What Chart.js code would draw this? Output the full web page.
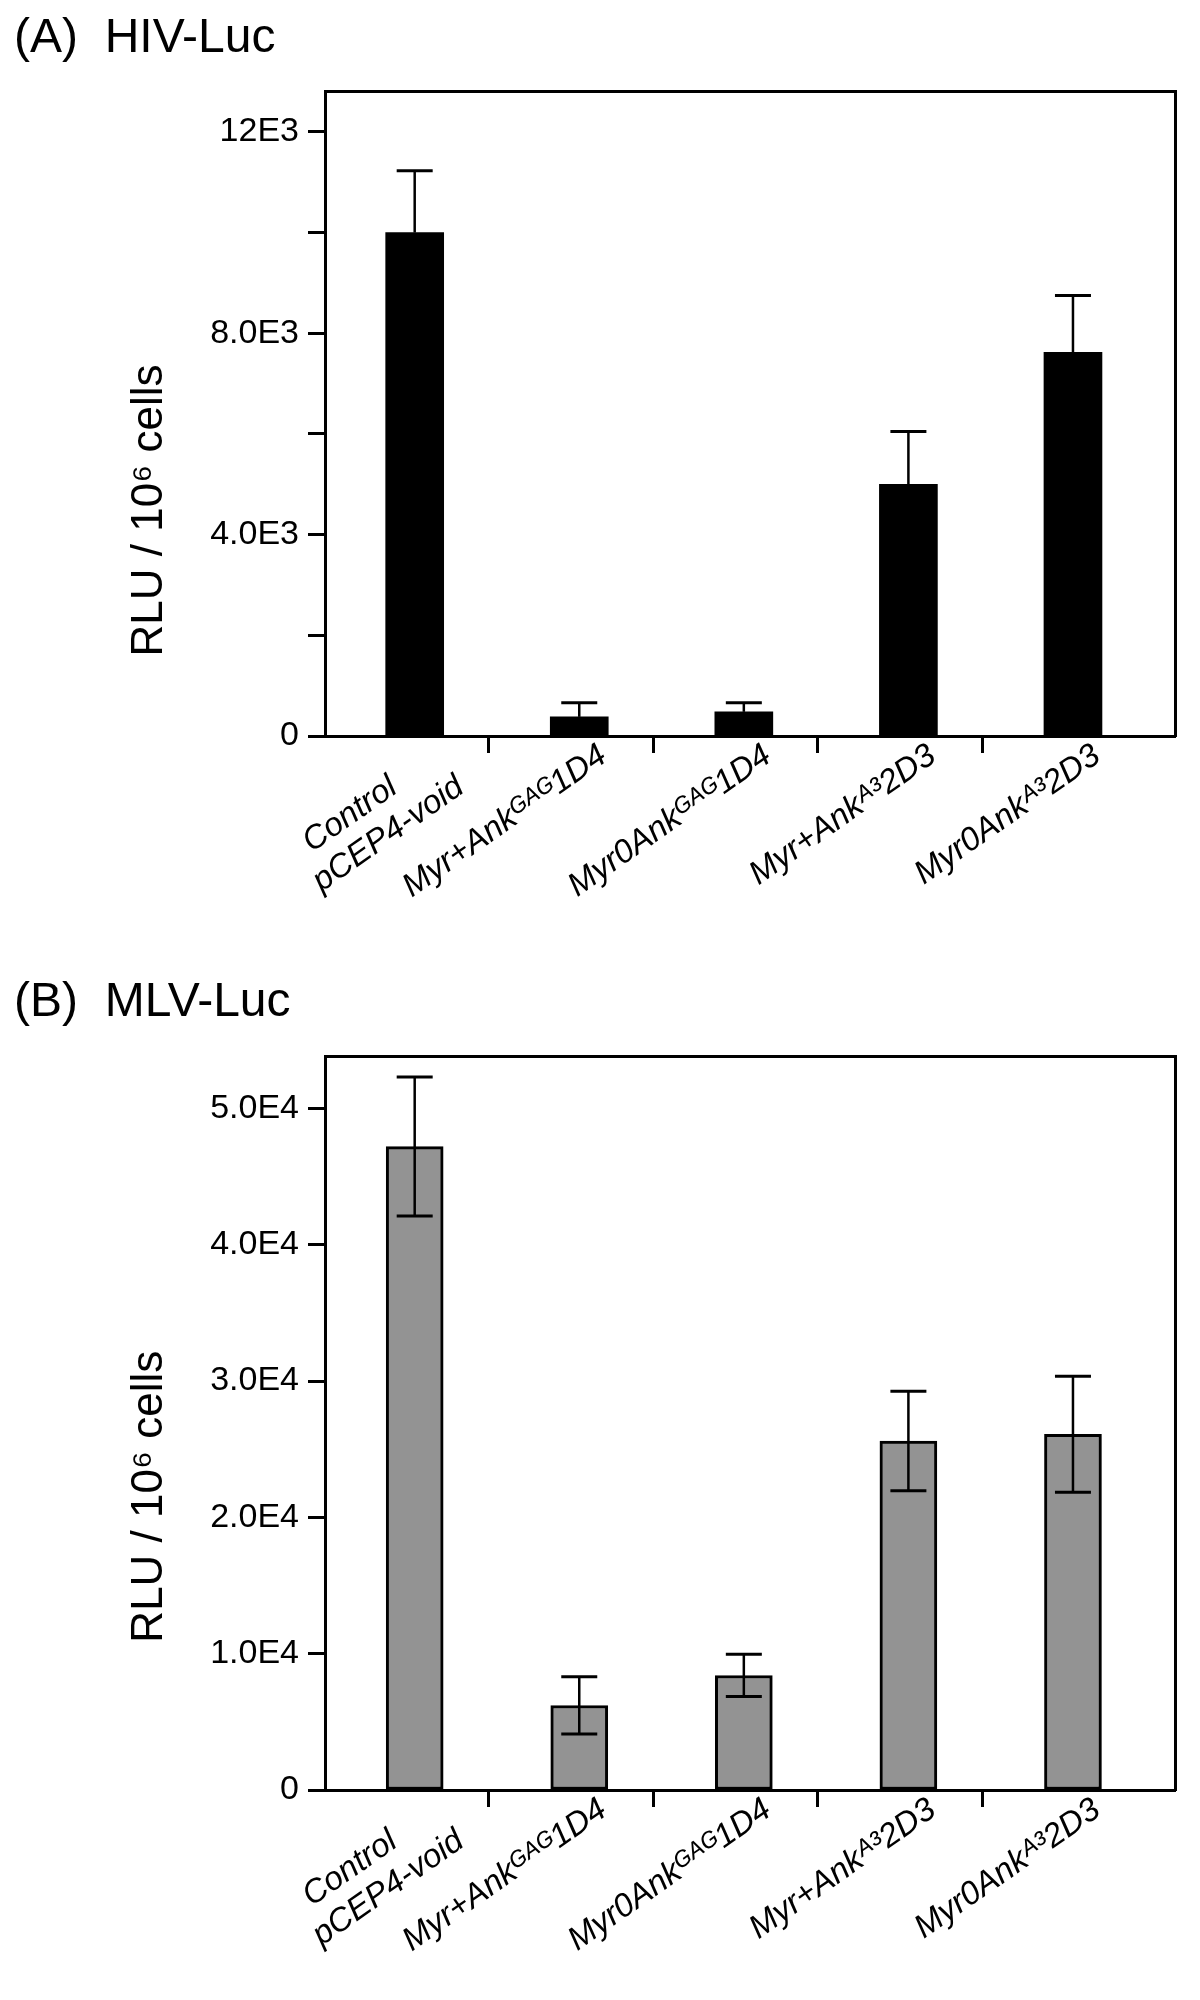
<!DOCTYPE html>
<html>
<head>
<meta charset="utf-8">
<script src="https://cdn.jsdelivr.net/npm/chart.js@4.4.1/dist/chart.umd.min.js"></script>
<style>
  body { margin: 0; background: #fff; }
  .panel { position: relative; width: 1200px; }
  #panelA { height: 960px; }
  #panelB { height: 1040px; }
</style>
</head>
<body>
<div class="panel" id="panelA"><canvas id="chartA"></canvas></div>
<div class="panel" id="panelB"><canvas id="chartB"></canvas></div>
<script>
// categories (same for both panels)
const categories = [['Control      ', 'pCEP4-void'], 'Myr+Ankᴳᴬᴳ1D4', 'Myr0Ankᴳᴬᴳ1D4', 'Myr+Ankᴬ³2D3', 'Myr0Ankᴬ³2D3'];

// (A) HIV-Luc
const hivValues = [10000, 380, 480, 5000, 7620];
const hivErrors = [1230, 280, 180, 1050, 1130];
const hivTicks = [0, 2000, 4000, 6000, 8000, 10000, 12000];
const hivTickLabels = ['0', '', '4.0E3', '', '8.0E3', '', '12E3'];
const hivMax = 12800;

// (B) MLV-Luc
const mlvValues = [47200, 6200, 8400, 25600, 26100];
const mlvErrors = [5100, 2100, 1550, 3650, 4250];
const mlvTicks = [0, 10000, 20000, 30000, 40000, 50000];
const mlvTickLabels = ['0', '1.0E4', '2.0E4', '3.0E4', '4.0E4', '5.0E4'];
const mlvMax = 53800;

const FONT = "'Liberation Sans', Arial, sans-serif";
const PAD_LEFT = 14;

const errorBars = {
    id: 'errorBars',
    afterDatasetsDraw(chart, args, opts) {
        const ctx = chart.ctx;
        const yScale = chart.scales.y;
        chart.data.datasets.forEach((ds, di) => {
            if (!ds.errors) return;
            const meta = chart.getDatasetMeta(di);
            meta.data.forEach((bar, i) => {
                const v = ds.data[i].y;
                const e = ds.errors[i];
                const top = yScale.getPixelForValue(v + e);
                const bottom = opts.both ? yScale.getPixelForValue(v - e) : bar.y;
                const half = opts.capWidth / 2;
                ctx.save();
                ctx.strokeStyle = '#000';
                ctx.lineWidth = opts.lineWidth;
                ctx.beginPath();
                ctx.moveTo(bar.x, top);
                ctx.lineTo(bar.x, bottom);
                ctx.stroke();
                ctx.lineWidth = opts.capLineWidth;
                ctx.beginPath();
                ctx.moveTo(bar.x - half, top);
                ctx.lineTo(bar.x + half, top);
                if (opts.both) {
                    ctx.moveTo(bar.x - half, bottom);
                    ctx.lineTo(bar.x + half, bottom);
                }
                ctx.stroke();
                ctx.restore();
            });
        });
    }
};

const axisCaption = {
    id: 'axisCaption',
    afterDraw(chart, args, opts) {
        const { ctx, chartArea } = chart;
        const y = chartArea.top + (chartArea.bottom - chartArea.top) * opts.at;
        ctx.save();
        ctx.translate(opts.x, y);
        ctx.rotate(-Math.PI / 2);
        ctx.font = opts.font;
        ctx.fillStyle = '#000';
        ctx.textAlign = 'center';
        ctx.textBaseline = 'middle';
        ctx.fillText(opts.text, 0, 0);
        ctx.restore();
    }
};

function frameAxis(position) {
    return {
        type: 'linear',
        position: position,
        ticks: { display: false },
        grid: { display: false, drawTicks: false },
        border: { color: '#000', width: 3 }
    };
}

function buildChart(canvasId, opts) {
    const ctx = document.getElementById(canvasId).getContext('2d');
    return new Chart(ctx, {
        type: 'bar',
        data: {
            datasets: [{
                data: opts.values.map((v, i) => ({ x: i, y: v })),
                errors: opts.errors,
                xAxisID: 'x',
                yAxisID: 'y',
                backgroundColor: opts.barColor,
                borderColor: '#000',
                borderWidth: opts.barBorder,
                borderSkipped: false,
                barThickness: opts.barThickness
            }]
        },
        options: {
            responsive: true,
            maintainAspectRatio: false,
            animation: false,
            layout: { padding: { left: PAD_LEFT, right: 25, top: 0, bottom: 0 } },
            plugins: {
                legend: { display: false },
                tooltip: { enabled: false },
                title: {
                    display: true,
                    text: opts.title,
                    align: 'start',
                    color: '#000',
                    font: { family: FONT, size: 48, weight: 'normal' },
                    padding: opts.titlePadding
                },
                errorBars: { both: opts.bothErrors, capWidth: 36, lineWidth: 2.5, capLineWidth: 3 },
                axisCaption: { text: 'RLU / 10⁶ cells', x: 150, at: opts.captionAt, font: '44px ' + FONT }
            },
            scales: {
                x: {
                    type: 'linear',
                    min: -0.545,
                    max: 4.62,
                    offset: false,
                    afterBuildTicks: s => { s.ticks = categories.map((c, i) => ({ value: i + 0.45 })); },
                    afterFit: s => { s.height = opts.xAxisHeight; },
                    ticks: {
                        autoSkip: false,
                        minRotation: 35,
                        maxRotation: 35,
                        labelOffset: c => c.index === 0 ? -98 : -50,
                        padding: -16,
                        color: '#000',
                        font: { family: FONT, size: 33, style: 'italic', lineHeight: 1.15 },
                        callback: (v, i) => categories[i]
                    },
                    grid: {
                        offset: false,
                        drawOnChartArea: false,
                        tickLength: 17,
                        tickWidth: 3,
                        tickColor: c => c.index < categories.length - 1 ? '#000' : 'rgba(0,0,0,0)'
                    },
                    border: { color: '#000', width: 3 }
                },
                xTop: Object.assign(frameAxis('top'), { min: -0.545, max: 4.62 }),
                y: {
                    type: 'linear',
                    min: 0,
                    max: opts.max,
                    afterBuildTicks: s => { s.ticks = opts.ticks.map(v => ({ value: v })); },
                    afterFit: s => { s.width = 325 - PAD_LEFT; },
                    ticks: {
                        autoSkip: false,
                        padding: 9,
                        color: '#000',
                        font: { family: FONT, size: 34 },
                        callback: (v, i) => opts.tickLabels[i]
                    },
                    grid: {
                        offset: false,
                        drawOnChartArea: false,
                        tickLength: 17,
                        tickWidth: 3,
                        tickColor: '#000'
                    },
                    border: { color: '#000', width: 3 }
                },
                yRight: frameAxis('right')
            }
        },
        plugins: [errorBars, axisCaption]
    });
}

buildChart('chartA', {
    title: '(A)  HIV-Luc',
    titlePadding: { top: 10, bottom: 24 },
    values: hivValues,
    errors: hivErrors,
    ticks: hivTicks,
    tickLabels: hivTickLabels,
    max: hivMax,
    barColor: '#000',
    barBorder: 0,
    barThickness: 58,
    bothErrors: false,
    captionAt: 0.65,
    xAxisHeight: 224
});

buildChart('chartB', {
    title: '(B)  MLV-Luc',
    titlePadding: { top: 14, bottom: 25 },
    values: mlvValues,
    errors: mlvErrors,
    ticks: mlvTicks,
    tickLabels: mlvTickLabels,
    max: mlvMax,
    barColor: '#939393',
    barBorder: 3,
    barThickness: 57,
    bothErrors: true,
    captionAt: 0.6,
    xAxisHeight: 210
});
</script>
</body>
</html>
